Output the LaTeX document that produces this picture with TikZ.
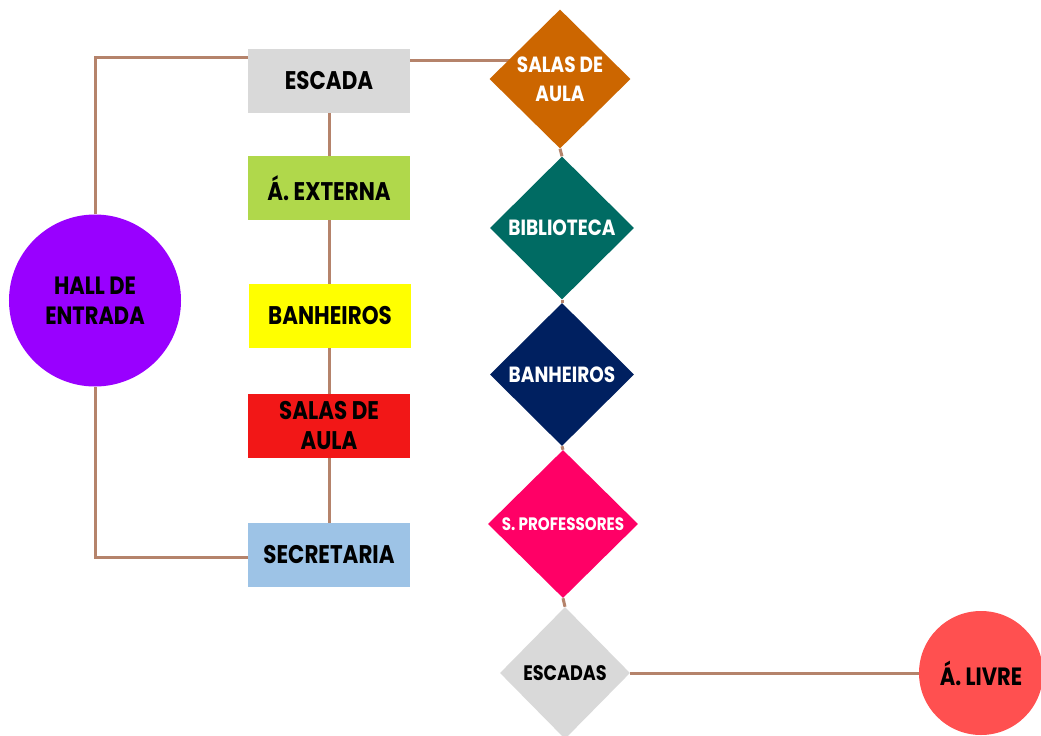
\documentclass[tikz,border=0pt]{standalone}
\usepackage{fontspec}
\setmainfont{Poppins}[FakeStretch=0.84]
\usetikzlibrary{shapes.geometric,backgrounds}
\definecolor{cgray}{HTML}{D9D9D9}
\definecolor{cgreen}{HTML}{B0D84B}
\definecolor{cyellow}{HTML}{FFFF00}
\definecolor{cred}{HTML}{F21717}
\definecolor{cblue}{HTML}{9DC3E6}
\definecolor{cpurple}{HTML}{9900FF}
\definecolor{corange}{HTML}{CC6600}
\definecolor{cteal}{HTML}{006B63}
\definecolor{cnavy}{HTML}{002060}
\definecolor{cpink}{HTML}{FF0066}
\definecolor{ccoral}{HTML}{FF5050}
\definecolor{cline}{HTML}{B5836B}
\tikzset{
  roombox/.style={rectangle, minimum width=162bp, minimum height=64bp, inner sep=0pt, align=center,
    font=\bfseries\fontsize{25.5bp}{30bp}\selectfont, text=black},
  roomdia/.style={diamond, aspect=1, inner sep=0pt, align=center, text=white,
    font=\bfseries\fontsize{22bp}{29bp}\selectfont},
  roomcirc/.style={circle, inner sep=0pt, align=center, text=black,
    font=\bfseries\fontsize{25bp}{30bp}\selectfont},
  conn/.style={draw=cline, line width=3bp}
}
\begin{document}
\begin{tikzpicture}[x=1bp, y=-1bp]
\useasboundingbox (0,0) rectangle (1041,736);
\clip (0,0) rectangle (1041,736);
% rectangles
\node[roombox, fill=cgray] (escada) at (329,81) {ESCADA};
\node[roombox, fill=cgreen] (externa) at (329,188) {Á. EXTERNA};
\node[roombox, fill=cyellow] (banh) at (330,316) {BANHEIROS};
\node[roombox, fill=cred] (salas) at (329,426) {SALAS DE\\AULA};
\node[roombox, fill=cblue] (secr) at (329,555) {SECRETARIA};
% hall
\node[roomcirc, fill=cpurple, minimum size=172bp] (hall) at (95,300.5) {HALL DE\\ENTRADA};
% diamonds
\node[roomdia, fill=corange, minimum width=141bp, minimum height=139bp] (salasd) at (560,79) {SALAS DE\\AULA};
\node[roomdia, fill=cteal, minimum width=144bp, minimum height=143bp] (bibd) at (562,228) {BIBLIOTECA};
\node[roomdia, fill=cnavy, minimum width=144bp, minimum height=143bp] (banhd) at (562,374.5) {BANHEIROS};
\node[roomdia, fill=cpink, minimum width=150bp, minimum height=148bp, font=\bfseries\fontsize{18bp}{22bp}\selectfont] (profd) at (563,524) {S. PROFESSORES};
\node[roomdia, fill=cgray, text=black, minimum width=130bp, minimum height=132bp, font=\bfseries\fontsize{21bp}{25bp}\selectfont] (escd) at (565,673) {ESCADAS};
\node[roomcirc, fill=ccoral, minimum size=124bp] (livre) at (981,673) {Á. LIVRE};
% connectors
\begin{scope}[on background layer]
\fill[white] (0,0) rectangle (1041,736);
\draw[conn] (hall.north) |- ([yshift=23bp]escada.west);
\draw[conn] (hall.south) |- ([yshift=-2bp]secr.west);
\draw[conn] ([yshift=20bp]escada.east) -- ([yshift=20bp]escada.east -| salasd.center);
\draw[conn] (escada.south) -- (externa.north);
\draw[conn] (externa.south) -- (externa.south |- banh.north);
\draw[conn] (salas.north |- banh.south) -- (salas.north);
\draw[conn] (salas.south) -- (secr.north);
\draw[conn] (salasd.south) -- (bibd.north);
\draw[conn] (bibd.south) -- (banhd.north);
\draw[conn] (banhd.south) -- (profd.north);
\draw[conn] (profd.south) -- (escd.north);
\draw[conn] (escd.east) -- (livre.west);
\end{scope}
\end{tikzpicture}
\end{document}
